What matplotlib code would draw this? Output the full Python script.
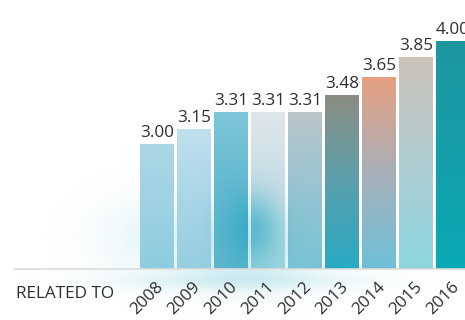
import numpy as np
import matplotlib
matplotlib.use("Agg")
import matplotlib.pyplot as plt
from matplotlib.patches import Rectangle
import matplotlib.transforms as mtransforms

years = ["2008", "2009", "2010", "2011", "2012", "2013", "2014", "2015", "2016"]
values = [3.00, 3.15, 3.31, 3.31, 3.31, 3.48, 3.65, 3.85, 4.00]
value_labels = ["3.00", "3.15", "3.31", "3.31", "3.31", "3.48", "3.65", "3.85", "4.00"]
axis_label = "RELATED TO"

# gradient stops per bar (top -> middle -> bottom), RGB 0-255
bar_stops = [
    [(170, 215, 230), (160, 210, 226), (140, 204, 222)],
    [(192, 224, 238), (170, 214, 230), (150, 206, 224)],
    [(125, 198, 218), (100, 185, 208), (95, 182, 206)],
    [(222, 230, 234), (200, 222, 230), (160, 214, 226)],
    [(185, 198, 202), (150, 196, 210), (120, 196, 214)],
    [(140, 140, 130), (90, 160, 172), (40, 170, 195)],
    [(230, 160, 128), (168, 176, 186), (110, 192, 216)],
    [(205, 195, 185), (175, 205, 210), (140, 214, 224)],
    [(30, 150, 160), (20, 160, 170), (10, 170, 180)],
]

plt.rcParams['font.family'] = ['Open Sans', 'DejaVu Sans']
FS = 12.3
TXT = "#2e2e2e"

W, H = 465, 320
fig = plt.figure(figsize=(W / 100, H / 100), dpi=100)
fig.patch.set_facecolor("white")

# background glow
bg = fig.add_axes([0, 0, 1, 1], zorder=0)
bg.set_axis_off()
yy, xx = np.mgrid[0:H, 0:W]
glow = 0.28 * np.exp(-(((xx - 245) / 70.0) ** 2 + ((yy - 240) / 40.0) ** 2))
glow += 0.07 * np.exp(-(((xx - 140) / 55.0) ** 2 + ((yy - 235) / 40.0) ** 2))
glow += 0.14 * np.exp(-(((xx - 240) / 120.0) ** 2 + ((yy - 280) / 10.0) ** 2))
glow = np.clip(glow, 0, 1)
img = np.zeros((H, W, 4))
img[..., 0] = 40 / 255
img[..., 1] = 170 / 255
img[..., 2] = 195 / 255
img[..., 3] = glow
bg.imshow(img, extent=[0, W, H, 0], aspect="auto")
bg.set_xlim(0, W)
bg.set_ylim(H, 0)

x0_px, ax_right_px = 15, 465
bottom_px = 269
ax = fig.add_axes([x0_px / W, 1 - bottom_px / H, (ax_right_px - x0_px) / W, bottom_px / H], zorder=1)
ax.patch.set_alpha(0)

step_px = 37.0
first_center = 157.0
xmin = (x0_px - first_center) / step_px
xmax = (ax_right_px - first_center) / step_px
ymin, ymax = 1.79, 4.40
ax.set_xlim(xmin, xmax)
ax.set_ylim(ymin, ymax)

width = 34 / 37
x = np.arange(len(years))

bars = ax.bar(x, values, width=width, bottom=0, color="none", edgecolor="none", zorder=2)

for i, (b, stops) in enumerate(zip(bars, bar_stops)):
    v = values[i]
    n = 200
    t = np.linspace(0, 1, n)  # 0 = bottom, 1 = top
    cols = np.array(stops[::-1], dtype=float) / 255  # bottom, mid, top
    pos = np.array([0, 0.5, 1])
    grad = np.stack([np.interp(t, pos, cols[:, k]) for k in range(3)], axis=-1)
    nx = 40
    im = np.repeat(grad[:, None, :], nx, axis=1)
    # glow inside bars
    xs = np.linspace(i - width / 2, i + width / 2, nx)
    ys = np.linspace(ymin, v, n)
    GX, GY = np.meshgrid(xs, ys)
    g = 0.6 * np.exp(-(((GX - 2.55) / 0.75) ** 2 + ((GY - 2.17) / 0.35) ** 2))
    teal = np.array([35, 165, 190]) / 255
    im = im * (1 - g[..., None]) + teal * g[..., None]
    artist = ax.imshow(im, extent=[i - width / 2, i + width / 2, ymin, v],
                       origin="lower", aspect="auto", zorder=2)
    rect = Rectangle((i - width / 2, ymin), width, v - ymin, transform=ax.transData)
    artist.set_clip_path(rect)
    ax.text(i, v + 0.03, value_labels[i], ha="center", va="bottom",
            fontsize=FS, color=TXT, zorder=3)

ax.set_xlim(xmin, xmax)
ax.set_ylim(ymin, ymax)

for s in ["top", "right", "left"]:
    ax.spines[s].set_visible(False)
ax.spines["bottom"].set_color("#dcdcdc")
ax.spines["bottom"].set_linewidth(1.2)
ax.set_yticks([])
ax.set_xticks(x)
ax.set_xticklabels(years, rotation=45, ha="right", va="center",
                   rotation_mode="anchor", fontsize=FS, color=TXT)
ax.tick_params(axis="x", length=0, pad=11.5)
offset = mtransforms.ScaledTranslation(4 / 100, 0, fig.dpi_scale_trans)
for lab in ax.get_xticklabels():
    lab.set_transform(lab.get_transform() + offset)

ax.text(0.002, -0.065, axis_label, transform=ax.transAxes, ha="left", va="top",
        fontsize=FS, color=TXT)

fig.savefig("out.png", dpi=100, facecolor="white")
